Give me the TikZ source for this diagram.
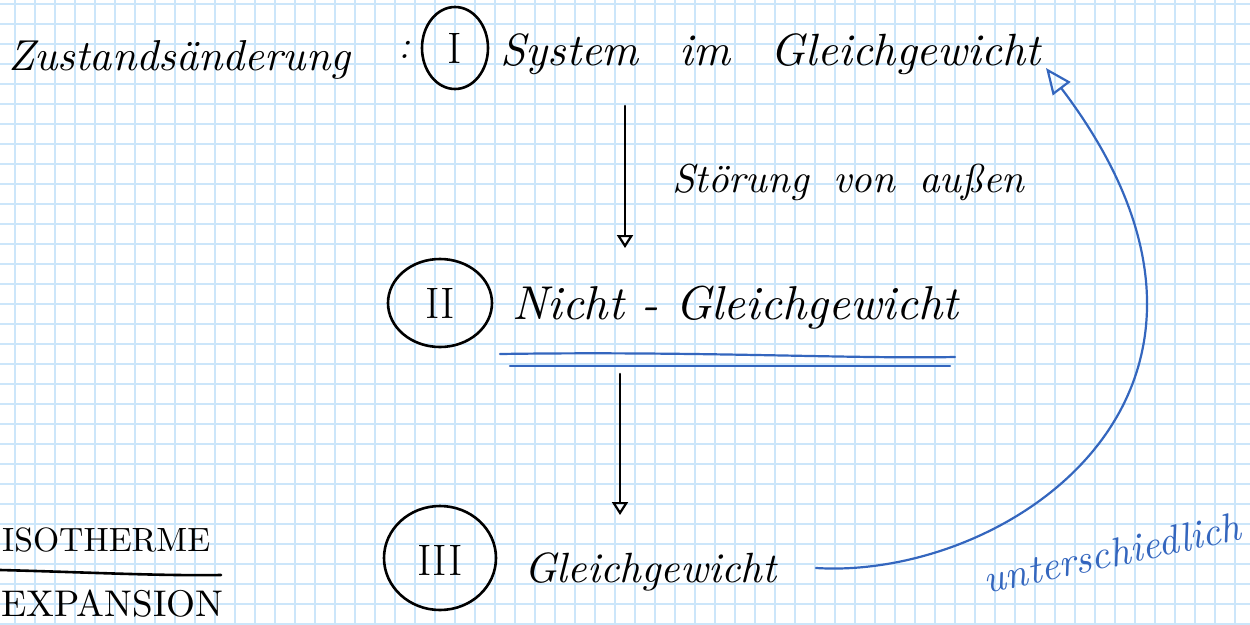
\documentclass[tikz,border=0pt]{standalone}
\usetikzlibrary{arrows.meta}
\definecolor{gridblue}{RGB}{204,230,250}
\definecolor{inkblue}{RGB}{52,102,190}
\newcommand{\fitw}[2]{\resizebox{#1}{!}{#2}}
\tikzset{
  ink/.style={black, line width=2.6pt, line cap=round, line join=round},
  blueink/.style={inkblue, line width=2.2pt, line cap=round, line join=round},
  hand/.style={inner sep=0pt, font=\itshape},
  numeral/.style={inner sep=0pt, font=\fontsize{44}{44}\selectfont},
  blackhead/.style={-{Triangle[open, length=13pt, width=16pt, line width=2.2pt]}},
  bluehead/.style={-{Triangle[open, length=26pt, width=22pt, line width=2.2pt]}}
}
\begin{document}
\begin{tikzpicture}[x=1pt,y=-1pt]
\useasboundingbox (0,0) rectangle (1250,624);
\fill[white] (0,0) rectangle (1250,624);
% grid
\foreach \gx in {15,35,...,1250} {\draw[gridblue, line width=1.8pt] (\gx,0) -- (\gx,624);}
\foreach \gy in {4,24,...,624} {\draw[gridblue, line width=1.8pt] (0,\gy) -- (1250,\gy);}

% title
\node[hand, anchor=west] (title) at (8,60) {\fitw{342pt}{Zustandsänderung}};
\node[hand, anchor=center] (colon) at (404,50) {\fontsize{40}{40}\selectfont :};

% state I
\draw[ink] (455,48) ellipse [x radius=33, y radius=41];
\node[numeral] (cI) at (455,48) {I};
\node[hand, anchor=west] (tI) at (500,54) {\fitw{540pt}{System\hspace{0.9em}im\hspace{0.9em}Gleichgewicht}};

% arrow I -> II
\coordinate (a1s) at (625,106);
\coordinate (a1e) at (625,248);
\draw[ink, blackhead] (a1s) -- (a1e);
\node[hand, anchor=west] (lab1) at (672,182) {\fitw{352pt}{Störung\hspace{0.6em}von\hspace{0.6em}außen}};

% state II
\draw[ink] (440,303) ellipse [x radius=52, y radius=44];
\node[numeral] (cII) at (440,303) {II};
\node[hand, anchor=west] (tII) at (512,308) {\fitw{446pt}{Nicht - Gleichgewicht}};
\draw[blueink] (500,354) .. controls (700,351) and (850,359) .. (955,357);
\draw[blueink] (510,366) -- (950,366);

% arrow II -> III
\coordinate (a2s) at (620,374);
\coordinate (a2e) at (620,515);
\draw[ink, blackhead] (a2s) -- (a2e);

% state III
\draw[ink] (440,558) ellipse [x radius=56, y radius=52];
\node[numeral] (cIII) at (440,560) {III};
\node[hand, anchor=west] (tIII) at (524,572) {\fitw{252pt}{Gleichgewicht}};

% blue return arrow
\coordinate (bs) at (816,568);
\coordinate (be) at (1046,68);
\draw[blueink, bluehead] (bs) .. controls (1010,580) and (1290,390) .. (be);
\node[inkblue, hand, rotate=12, anchor=center] (lab2) at (1112,553) {\fitw{262pt}{unterschiedlich}};

% left note
\node[inner sep=0pt, anchor=west] (iso) at (2,540) {\fitw{208pt}{ISOTHERME}};
\draw[ink] (0,570) .. controls (80,572) and (160,576) .. (221,575);
\node[inner sep=0pt, anchor=west] (exp) at (1,604) {\fitw{222pt}{EXPANSION}};
\end{tikzpicture}
\end{document}
